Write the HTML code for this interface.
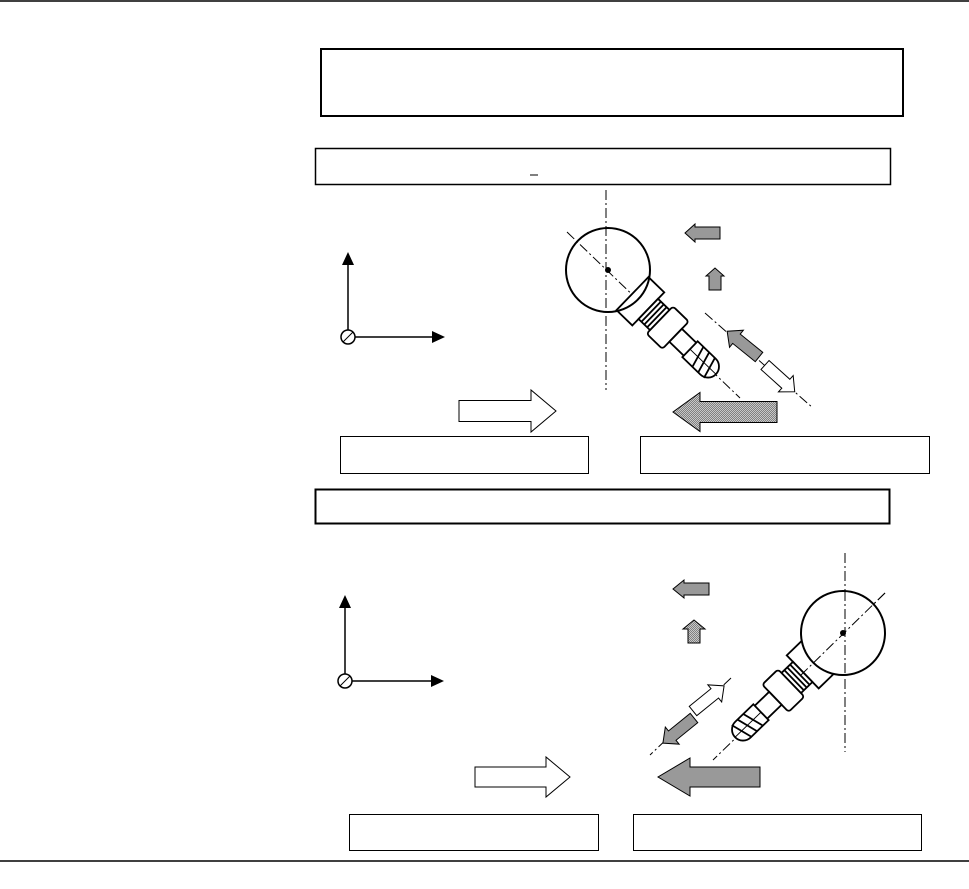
<!DOCTYPE html>
<html><head><meta charset="utf-8"><style>html,body{margin:0;padding:0;background:#fff}svg{display:block}</style></head>
<body>
<svg width="969" height="889" viewBox="0 0 969 889" xmlns="http://www.w3.org/2000/svg">
<defs>
<pattern id="ht" width="2" height="2" patternUnits="userSpaceOnUse"><rect width="2" height="2" fill="#c8c8c8"/><rect width="1" height="1" fill="#808080"/><rect x="1" y="1" width="1" height="1" fill="#808080"/></pattern>
<g id="stem" stroke="#000" fill="#fff" stroke-width="1.8">
  <rect x="34" y="-23" width="22" height="46"/>
  <rect x="56" y="-14" width="16" height="28"/>
  <line x1="60" y1="-14" x2="60" y2="14"/><line x1="64" y1="-14" x2="64" y2="14"/><line x1="68" y1="-14" x2="68" y2="14"/>
  <rect x="72" y="-19" width="22" height="38" rx="3"/>
  <rect x="94" y="-9" width="24" height="18"/>
  <path d="M114,-11 L139,-11 A11,11 0 0 1 139,11 L114,11 Z"/>
  <line x1="122" y1="-11" x2="128" y2="11"/><line x1="130" y1="-11" x2="136" y2="11"/><line x1="138" y1="-11" x2="144" y2="11"/>
  <line x1="114" y1="0" x2="150" y2="0" stroke-width="1"/>
</g>
</defs>
<g fill="none" stroke="#000">
<line x1="0" y1="1" x2="969" y2="1" stroke-width="1.5"/>
<line x1="0" y1="861" x2="969" y2="861" stroke-width="1.5"/>
<rect x="321" y="49" width="582" height="67" stroke-width="2"/>
<rect x="315.5" y="148.5" width="575" height="36" stroke-width="1.5"/>
<line x1="530" y1="175" x2="538" y2="175"/>
<rect x="340.5" y="436.5" width="248" height="37"/>
<rect x="640.5" y="436.5" width="289" height="37"/>
<rect x="315.5" y="489.5" width="574" height="34" stroke-width="2"/>
<rect x="349.5" y="814.5" width="249" height="36"/>
<rect x="633.5" y="814.5" width="288" height="36"/>
</g>
<g stroke="#000" stroke-width="1.5">
<line x1="348" y1="330" x2="348" y2="262"/><line x1="355" y1="337" x2="433" y2="337"/>
<circle cx="348" cy="337" r="7" fill="#fff"/><line x1="343" y1="342" x2="353" y2="332" stroke-width="1"/>
<line x1="345" y1="680" x2="345" y2="607"/><line x1="352" y1="681" x2="432" y2="681"/>
<circle cx="345" cy="681" r="7" fill="#fff"/><line x1="340" y1="686" x2="350" y2="676" stroke-width="1"/>
</g>
<g fill="#000"><path d="M342,265 L348,252 L354,265Z"/><path d="M432,331 L445,337 L432,343Z"/>
<path d="M339,608 L345,595 L351,608Z"/><path d="M431,675 L444,681 L431,687Z"/></g>
<g stroke="#000" stroke-width="1" stroke-dasharray="10,3,2,3" fill="none">
<line x1="606" y1="190" x2="606" y2="390"/>
<line x1="567" y1="232" x2="740" y2="398"/>
<line x1="705" y1="313" x2="813" y2="408"/>
<line x1="845" y1="553" x2="845" y2="752"/>
<line x1="885" y1="593" x2="713" y2="760"/>
<line x1="731" y1="678" x2="650" y2="755"/>
</g>
<g transform="translate(608,270) rotate(44)"><use href="#stem"/></g>
<circle cx="608" cy="270" r="42" fill="none" stroke="#000" stroke-width="2"/>
<circle cx="608" cy="270" r="3" fill="#000"/>
<g stroke="#000" stroke-width="1">
<path transform="translate(720,233) rotate(180)" d="M0,-6 L25,-6 L25,-9 L35,0 L25,9 L25,6 L0,6Z" fill="#999"/>
<path transform="translate(715,290) rotate(-90)" d="M0,-6 L14,-6 L14,-9 L22,0 L14,9 L14,6 L0,6Z" fill="#999"/>
<path transform="translate(759,357) rotate(219)" d="M0,-6 L29,-6 L29,-11 L41,0 L29,11 L29,6 L0,6Z" fill="#999"/>
<path transform="translate(765,365) rotate(42)" d="M0,-6 L28,-6 L28,-11 L40,0 L28,11 L28,6 L0,6Z" fill="#fff"/>
<path transform="translate(459,411)" d="M0,-10.5 L72,-10.5 L72,-21 L97,0 L72,21 L72,10.5 L0,10.5Z" fill="#fff"/>
<path transform="translate(777,412) rotate(180)" d="M0,-10.5 L77,-10.5 L77,-19.5 L104,0 L77,19.5 L77,10.5 L0,10.5Z" fill="url(#ht)"/>
</g>
<g transform="translate(843,633) rotate(136)"><use href="#stem"/></g>
<circle cx="843" cy="633" r="42" fill="#fff" stroke="#000" stroke-width="2"/>
<line x1="845" y1="591" x2="845" y2="675" stroke="#000" stroke-dasharray="10,3,2,3"/>
<line x1="885" y1="593" x2="801" y2="675" stroke="#000" stroke-dasharray="10,3,2,3"/>
<circle cx="843" cy="633" r="3" fill="#000"/>
<g stroke="#000" stroke-width="1">
<path transform="translate(709,589) rotate(180)" d="M0,-6 L25,-6 L25,-9 L36,0 L25,9 L25,6 L0,6Z" fill="#999"/>
<path transform="translate(694,643) rotate(-90)" d="M0,-6 L14,-6 L14,-11 L23,0 L14,11 L14,6 L0,6Z" fill="url(#ht)"/>
<path transform="translate(693,711) rotate(-39)" d="M0,-6 L28,-6 L28,-11 L40,0 L28,11 L28,6 L0,6Z" fill="#fff"/>
<path transform="translate(694,718) rotate(141)" d="M0,-6 L28,-6 L28,-11 L40,0 L28,11 L28,6 L0,6Z" fill="#999"/>
<path transform="translate(475,777)" d="M0,-10 L71,-10 L71,-20 L95,0 L71,20 L71,10 L0,10Z" fill="#fff"/>
<path transform="translate(760,777) rotate(180)" d="M0,-10 L70,-10 L70,-19 L102,0 L70,19 L70,10 L0,10Z" fill="#999"/>
</g>
</svg>
</body></html>
